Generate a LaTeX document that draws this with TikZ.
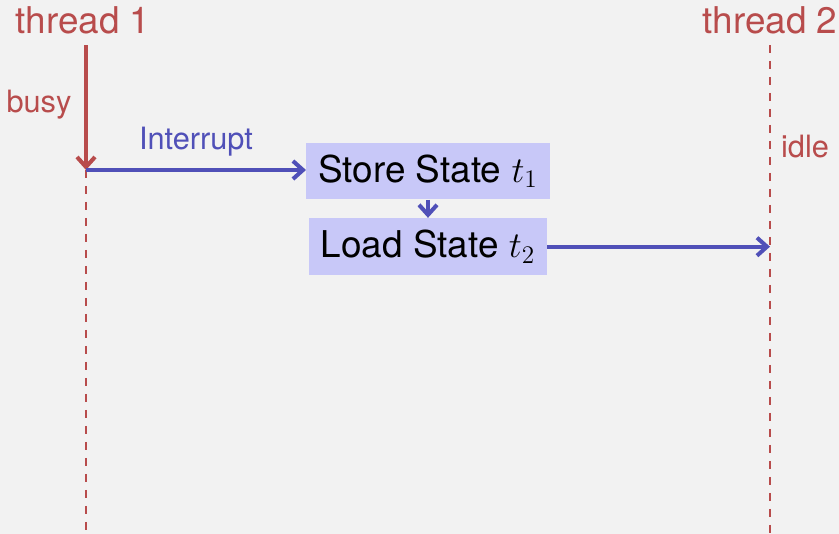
\documentclass[tikz,border=0pt]{standalone}
\usepackage{fontspec}
\setmainfont{TeX Gyre Heros}
\usetikzlibrary{arrows.meta,positioning}
\definecolor{thRed}{HTML}{B84C4C}
\definecolor{thBlue}{HTML}{5050B8}
\definecolor{thBox}{HTML}{C8C8F8}
\definecolor{thBg}{HTML}{F2F2F2}

\begin{document}
\begin{tikzpicture}[x=0.02cm,y=-0.02cm,
    head/.style={text=thRed,font=\fontsize{21}{25}\selectfont},
    note/.style={text=thRed,font=\fontsize{17.5}{21}\selectfont},
    statebox/.style={fill=thBox,inner xsep=0.24cm,minimum height=1.14cm,
                     font=\fontsize{21}{25}\selectfont},
    life/.style={thRed,line width=1.4pt,dash pattern=on 0.16cm off 0.16cm},
    flow/.style={thBlue,line width=2.3pt,-{Straight Barb[length=0.2cm,width=0.36cm]}}]
    \fill[thBg] (0,0) rectangle (839,534);
    \useasboundingbox (0,0) rectangle (839,534);
    % threads
    \node[head] (th1) at (83,20) {thread 1};
    \node[head] (th2) at (770,20) {thread 2};
    \coordinate (top1) at (86,45);
    \coordinate (irq) at (86,170);
    \coordinate (bot1) at (86,534);
    \coordinate (top2) at (770,45);
    \coordinate (bot2) at (770,534);
    \draw[thRed,line width=2.3pt,-{Straight Barb[length=0.2cm,width=0.36cm]}] (top1) -- (irq);
    \draw[life] (irq) -- (bot1);
    \draw[life] (top2) -- (bot2);
    \node[note] (busy) at (39,105) {busy};
    \node[note] (idle) at (805,147) {idle};
    % context switch
    \node[statebox] (store) at (428,171) {Store State $t_1$};
    \node[statebox,below=0.36cm of store] (load) {Load State $t_2$};
    \draw[flow] (irq) -- (irq -| store.west)
      node[midway,above=0.12cm,text=thBlue,font=\fontsize{17.5}{21}\selectfont] (irqlbl) {Interrupt};
    \draw[flow] (store) -- (load);
    \draw[flow] (load) -- (load -| top2);
\end{tikzpicture}
\end{document}
